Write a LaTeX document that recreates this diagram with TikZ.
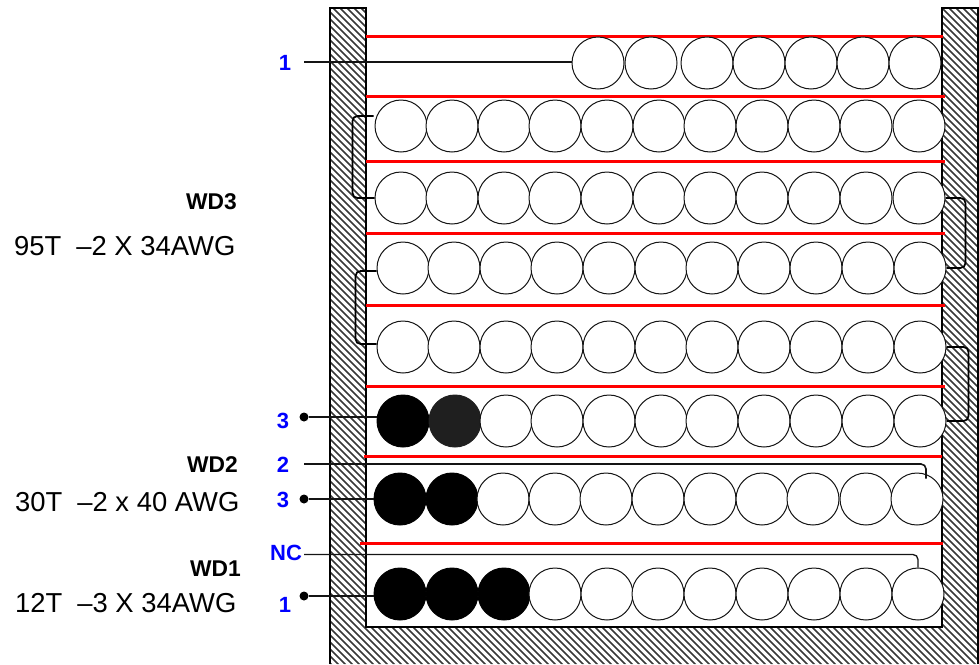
\documentclass[tikz,border=0pt]{standalone}
\usepackage{fontspec}
\usetikzlibrary{calc}
\setmainfont{Liberation Sans}
\definecolor{labelblue}{RGB}{0,0,255}
\definecolor{wire}{RGB}{20,20,20}
\tikzset{
  turn/.style={circle,draw=wire,line width=1pt,fill=white,minimum size=52pt,inner sep=0pt},
  solidturn/.style={turn,fill=black,draw=black},
  greyturn/.style={turn,fill=black!88,draw=black!88},
  sep/.style={draw=red,line width=3pt},
  wirel/.style={draw=wire,line width=1.3pt,rounded corners=5pt},
  jumper/.style={wirel,draw=black,line width=1.7pt},
  dot/.style={circle,fill=black,inner sep=0pt,minimum size=9pt},
  pin/.style={font=\bfseries\fontsize{22}{22}\selectfont,text=labelblue,inner sep=0pt},
  wd/.style={font=\bfseries\fontsize{22.8}{23}\selectfont,inner sep=0pt},
  spec/.style={font=\fontsize{27.4}{28}\selectfont,inner sep=0pt},
}
\newcommand{\gapT}{\hspace{15pt}}
\begin{document}
\begin{tikzpicture}[x=1pt,y=-1pt]
\useasboundingbox (0,0) rectangle (979,664);
% bobbin
\begin{scope}
\clip (330,8)--(366,8)--(366,627)--(942,627)--(942,8)--(979,8)--(979,664)--(330,664)--cycle;
\foreach \c in {-340,-333,...,980}{
  \draw[black!78,line width=1.7pt] (\c,0)--(\c+700,700);
}
\end{scope}
\draw[line width=1.4pt] (330,664)--(330,8)--(366,8)--(366,627)--(942,627)--(942,8)--(978,8)--(978,664);
% separators
\coordinate (s1a) at (366,36); \coordinate (s1b) at (943,36);
\coordinate (s2a) at (366,96); \coordinate (s2b) at (945,96);
\coordinate (s3a) at (366,161); \coordinate (s3b) at (945,161);
\coordinate (s4a) at (366,233); \coordinate (s4b) at (945,233);
\coordinate (s5a) at (366,305); \coordinate (s5b) at (945,305);
\coordinate (s6a) at (366,386); \coordinate (s6b) at (945,386);
\coordinate (s7a) at (364,456); \coordinate (s7b) at (942,456);
\coordinate (s8a) at (360,543); \coordinate (s8b) at (943,543);
\foreach \i in {1,...,8}{\draw[sep] (s\i a)--(s\i b);}
% row 1
\foreach \n/\x in {1/598,2/651,3/707,4/759,5/811,6/863,7/915}{
  \node[turn] (a\n) at (\x,63) {};
}
% rows 2-5 (full white)
\foreach \n/\x in {1/401,2/452,3/504,4/555,5/607,6/659,7/710,8/762,9/814,10/866,11/919}{
  \node[turn] (b\n) at (\x,126) {};
  \node[turn] (c\n) at (\x,198) {};
}
\foreach \n/\x in {1/403,2/454,3/506,4/557,5/609,6/661,7/712,8/764,9/816,10/868,11/920}{
  \node[turn] (d\n) at (\x,268) {};
  \node[turn] (e\n) at (\x,347) {};
}
% row 6
\foreach \n/\x/\s in {1/403/solidturn,2/455/greyturn,3/506/turn,4/557/turn,5/609/turn,6/661/turn,7/712/turn,8/764/turn,9/816/turn,10/868/turn,11/920/turn}{
  \node[\s] (f\n) at (\x,421) {};
}
% row 7
\foreach \n/\x/\s in {1/400/solidturn,2/452/solidturn,3/503/turn,4/555/turn,5/606/turn,6/658/turn,7/710/turn,8/762/turn,9/813/turn,10/866/turn,11/917/turn}{
  \node[\s] (g\n) at (\x,499) {};
}
% row 8
\foreach \n/\x/\s in {1/400/solidturn,2/452/solidturn,3/504/solidturn,4/555/turn,5/607/turn,6/658/turn,7/710/turn,8/762/turn,9/814/turn,10/866/turn,11/918/turn}{
  \node[\s] (h\n) at (\x,594) {};
}
% side jumpers
\coordinate (j1) at ($(b1.west)+(-1,-10)$);
\coordinate (j2) at ($(d1.west)+(0,3)$);
\coordinate (j3) at ($(e1.west)+(0,-3)$);
\draw[jumper] (j1) -- ++(-21,0) -- ++(0,82) -- (c1.west);
\draw[jumper] (j2) -- ++(-21,0) -- ++(0,73) -- (j3);
\draw[jumper] (c11.east) -- ++(20,0) -- ++(0,70) -- (d11.east);
\draw[jumper] (e11.east) -- ++(22,0) -- ++(0,74) -- (f11.east);
% pin labels and leads
\coordinate (p1) at (304,62);
\coordinate (p2) at (304,464);
\coordinate (p2end) at (926,478.5);
\coordinate (pnc) at (304,554.5);
\node[dot] (q3a) at (304,417) {};
\node[dot] (q3b) at (304,499) {};
\node[dot] (q1) at (304,596) {};
\draw[wirel] (p1) -- (a1.west |- p1);
\draw[wirel] (q3a) -- (f1.west |- q3a);
\draw[wirel] (q3b) -- (g1.west);
\draw[wirel] (q1) -- (h1.west |- q1);
\draw[wirel,line width=1.6pt] (p2) -| (p2end);
\draw[wirel] (pnc) -| (h11.north);
\node[pin] (l1) at (285,63) {1};
\node[pin] (l3a) at (283,421) {3};
\node[pin] (l2) at (283,465) {2};
\node[pin] (l3b) at (283,500) {3};
\node[pin] (lnc) at (286,553) {NC};
\node[pin] (l1b) at (285,605) {1};
\node[wd,anchor=east] (w3) at (237,202) {WD3};
\node[wd,anchor=east] (w2) at (238,465) {WD2};
\node[wd,anchor=east] (w1) at (241,569) {WD1};
\node[spec,anchor=west] (t3) at (14,246) {95T\gapT –2 X 34AWG};
\node[spec,anchor=west] (t2) at (15,502) {30T\gapT –2 x 40 AWG};
\node[spec,anchor=west] (t1) at (15,603) {12T\gapT –3 X 34AWG};
\end{tikzpicture}
\end{document}
